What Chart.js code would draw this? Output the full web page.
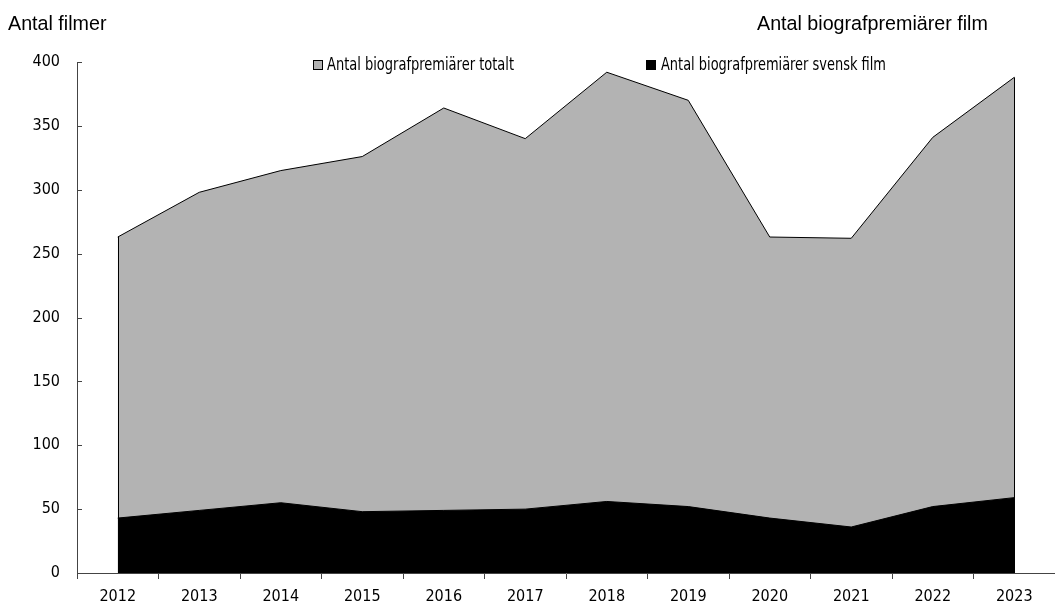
<!DOCTYPE html>
<html lang="sv">
<head>
  <meta charset="UTF-8">
  <title>Antal biografpremiärer film</title>
  <script src="https://cdn.jsdelivr.net/npm/chart.js"></script>
  <style>
    body { margin: 0; background: #fff; }
    #wrap { position: relative; width: 1055px; height: 604px; }
    .hdr { position: absolute; font-family: 'Liberation Sans', Arial, sans-serif; font-size: 19.7px; line-height: 1; color: #000; white-space: nowrap; }
    .leg { position: absolute; font-family: 'Liberation Sans Narrow', 'DejaVu Sans Condensed', 'Arial Narrow', sans-serif; font-size: 17px; line-height: 1; color: #000; white-space: nowrap; transform-origin: 0 0; }
    .box { position: absolute; width: 10px; height: 10px; box-sizing: border-box; }
  </style>
</head>
<body>
  <div id="wrap">
    <canvas id="chart"></canvas>
    <div class="hdr" style="left:8px;top:13.5px">Antal filmer</div>
    <div class="hdr" style="left:757px;top:13.5px">Antal biografpremiärer film</div>
    <div class="box" style="left:313px;top:59.5px;background:#b3b3b3;border:1px solid #000"></div>
    <div class="leg" id="leg1" data-w="187" style="left:327px;top:56px"></div>
    <div class="box" style="left:646px;top:59.5px;background:#000"></div>
    <div class="leg" id="leg2" data-w="225" style="left:661px;top:56px"></div>
  </div>
  <script>
    const years = ['2012', '2013', '2014', '2015', '2016', '2017', '2018', '2019', '2020', '2021', '2022', '2023'];
    const totalPremieres = [263, 298, 315, 326, 364, 340, 392, 370, 263, 262, 341, 388];
    const swedishPremieres = [43, 49, 55, 48, 49, 50, 56, 52, 43, 36, 52, 59];
    const totalLabel = 'Antal biografpremiärer totalt';
    const swedishLabel = 'Antal biografpremiärer svensk film';

    // legend text, squeezed to the narrow width of the original
    [['leg1', totalLabel], ['leg2', swedishLabel]].forEach(([id, txt]) => {
      const el = document.getElementById(id);
      el.textContent = txt;
      const w = el.getBoundingClientRect().width;
      el.style.transform = 'scaleX(' + Math.min(1, el.dataset.w / w) + ')';
    });

    const tickFont = { family: "'Liberation Sans Narrow', 'DejaVu Sans Condensed', 'Arial Narrow', sans-serif", size: 16 };

    // small inward ticks on the y axis + vertical edges of the grey area
    const extras = {
      id: 'extras',
      afterDatasetsDraw(chart) {
        const ctx = chart.ctx;
        const y = chart.scales.y;
        const area = chart.chartArea;
        ctx.save();
        ctx.strokeStyle = '#000';
        ctx.lineWidth = 1;
        const pts = chart.getDatasetMeta(0).data;
        const base = y.getPixelForValue(0);
        [pts[0], pts[pts.length - 1]].forEach(p => {
          ctx.beginPath();
          ctx.moveTo(Math.round(p.x) + 0.5, p.y);
          ctx.lineTo(Math.round(p.x) + 0.5, base);
          ctx.stroke();
        });
        ctx.strokeStyle = '#444';
        y.ticks.forEach(t => {
          const py = Math.round(y.getPixelForValue(t.value)) + 0.5;
          ctx.beginPath();
          ctx.moveTo(area.left, py);
          ctx.lineTo(area.left + 5, py);
          ctx.stroke();
        });
        ctx.restore();
      }
    };

    const ctx = document.getElementById('chart').getContext('2d');
    new Chart(ctx, {
      type: 'line',
      data: {
        labels: years,
        datasets: [
          {
            label: totalLabel,
            data: totalPremieres,
            fill: 'origin',
            backgroundColor: '#b3b3b3',
            borderColor: '#000',
            borderWidth: 1,
            pointRadius: 0,
            tension: 0,
            order: 1
          },
          {
            label: swedishLabel,
            data: swedishPremieres,
            fill: 'origin',
            backgroundColor: '#000',
            borderColor: '#000',
            borderWidth: 1,
            pointRadius: 0,
            tension: 0,
            order: 0
          }
        ]
      },
      options: {
        responsive: true,
        maintainAspectRatio: false,
        animation: false,
        layout: { padding: { top: 62, right: 0, bottom: 0, left: 0 } },
        plugins: {
          legend: { display: false },
          tooltip: { enabled: false }
        },
        scales: {
          x: {
            offset: true,
            grid: { offset: true, drawOnChartArea: false, tickLength: 6, color: '#444' },
            border: { color: '#444' },
            ticks: { font: tickFont, color: '#000', padding: 8, maxRotation: 0, autoSkip: false },
            afterFit: s => { s.height = 31; }
          },
          y: {
            min: 0,
            max: 400,
            ticks: { stepSize: 50, font: tickFont, color: '#000', padding: 17 },
            grid: { drawOnChartArea: false, drawTicks: false },
            border: { color: '#444' },
            afterFit: s => { s.width = 77; }
          }
        }
      },
      plugins: [extras]
    });
  </script>
</body>
</html>
